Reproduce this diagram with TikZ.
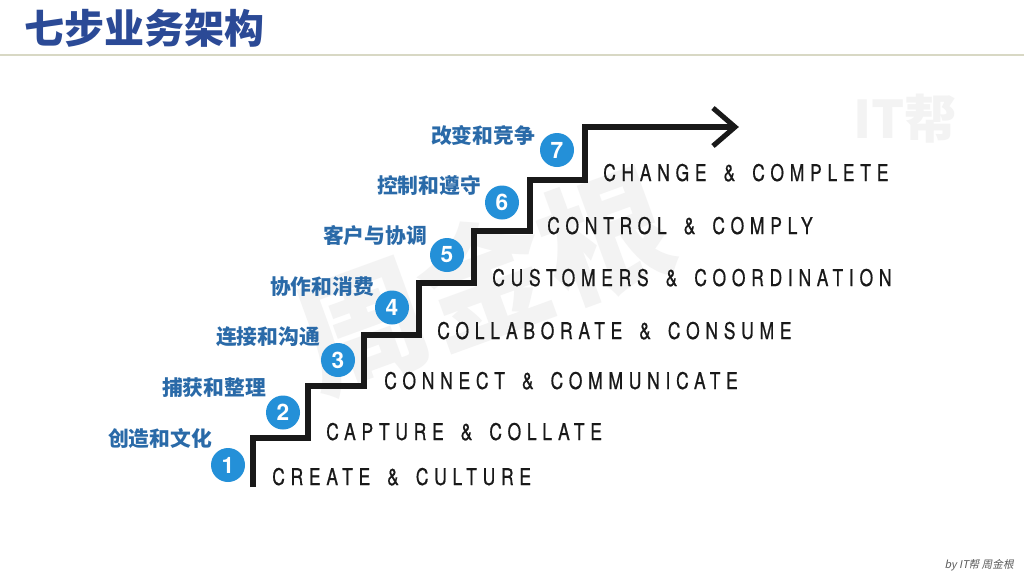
\documentclass[tikz,border=0pt]{standalone}
\usepackage{fontspec}
\setmainfont{TeX Gyre Heros}
\newfontfamily\engfont[FakeStretch=0.76,LetterSpace=25,WordSpace=1.6,FakeBold=0.6]{TeX Gyre Heros}
\newfontfamily\cjk{Noto Sans CJK SC}
\newfontfamily\cjkit[FakeSlant=0.2]{Noto Sans CJK SC}
\definecolor{titleblue}{HTML}{2B4A96}
\definecolor{labelblue}{HTML}{2A6AA8}
\definecolor{circblue}{HTML}{2490D8}
\definecolor{ruleline}{HTML}{D8D8C4}
\definecolor{wmgray}{HTML}{F3F3F3}
\tikzset{
  engl/.style={anchor=base west, inner sep=0pt, font=\engfont\fontsize{17.25pt}{20pt}\selectfont, text=black!90},
  cnlabel/.style={inner sep=0pt, font=\cjk\bfseries\fontsize{15.6pt}{18pt}\selectfont, text=labelblue},
  numcirc/.style={circle, fill=circblue, minimum size=25.5pt, inner sep=0pt, text=white, font=\bfseries\fontsize{17pt}{17pt}\selectfont},
  stair/.style={line width=3.8pt, black!90, line join=miter},
  wm/.style={inner sep=0pt, text=wmgray, font=\cjk\bfseries\fontsize{97pt}{100pt}\selectfont},
}
\begin{document}
\begin{tikzpicture}[x=0.75pt,y=-0.75pt]
\useasboundingbox (0,0) rectangle (1024,576);
\fill[white] (0,0) rectangle (1024,576);
% watermarks
\node[wm, rotate=20] (wmname) at (484,280) {周金根};
\node[wm, font=\cjk\bfseries\fontsize{39pt}{40pt}\selectfont] (wmit) at (905,119) {IT帮};
% title
\node[anchor=west, inner sep=0pt, text=titleblue, font=\cjk\bfseries\fontsize{30pt}{32pt}\selectfont] (title) at (24,28) {七步业务架构};
\coordinate (rl) at (0,55);
\coordinate (rr) at (1024,55);
\draw[ruleline, line width=0.9pt] (rl) -- (rr);
% stair coordinates
\coordinate (s0) at (253,487);
\coordinate (a1) at (253,438); \coordinate (b1) at (308,438);
\coordinate (a2) at (308,386); \coordinate (b2) at (364,386);
\coordinate (a3) at (364,335); \coordinate (b3) at (419,335);
\coordinate (a4) at (419,283); \coordinate (b4) at (474,283);
\coordinate (a5) at (474,231); \coordinate (b5) at (530,231);
\coordinate (a6) at (530,180); \coordinate (b6) at (585,180);
\coordinate (a7) at (585,127); \coordinate (tip) at (735,127);
\coordinate (ht) at (713,108); \coordinate (hb) at (713,146);
\draw[stair] (s0) -- (a1) -- (b1) -- (a2) -- (b2) -- (a3) -- (b3) -- (a4) -- (b4) -- (a5) -- (b5) -- (a6) -- (b6) -- (a7) -- (tip);
\draw[stair] (ht) -- (tip) -- (hb);
% english labels
\node[engl] (e1) at (272,485) {CREATE \& CULTURE};
\node[engl] (e2) at (326,440) {CAPTURE \& COLLATE};
\node[engl] (e3) at (384,389) {CONNECT \& COMMUNICATE};
\node[engl] (e4) at (437,339) {COLLABORATE \& CONSUME};
\node[engl] (e5) at (492,286) {CUSTOMERS \& COORDINATION};
\node[engl] (e6) at (547,234) {CONTROL \& COMPLY};
\node[engl] (e7) at (603,181) {CHANGE \& COMPLETE};
% circles
\node[numcirc] (c1) at (228,465) {1};
\node[numcirc] (c2) at (283,412.5) {2};
\node[numcirc] (c3) at (338,360) {3};
\node[numcirc] (c4) at (392,307.5) {4};
\node[numcirc] (c5) at (447,255) {5};
\node[numcirc] (c6) at (502,202.5) {6};
\node[numcirc] (c7) at (557,150) {7};
% chinese labels
\node[cnlabel] (z1) at (160,438) {创造和文化};
\node[cnlabel] (z2) at (214,387.5) {捕获和整理};
\node[cnlabel] (z3) at (268,337) {连接和沟通};
\node[cnlabel] (z4) at (322,286.5) {协作和消费};
\node[cnlabel] (z5) at (375,236) {客户与协调};
\node[cnlabel] (z6) at (429,185.5) {控制和遵守};
\node[cnlabel] (z7) at (483,135) {改变和竞争};
% footer
\node[anchor=east, inner sep=0pt, text=black!65, font=\cjkit\fontsize{8pt}{9pt}\selectfont] (by) at (1014,565) {by IT帮 周金根};
\end{tikzpicture}
\end{document}
